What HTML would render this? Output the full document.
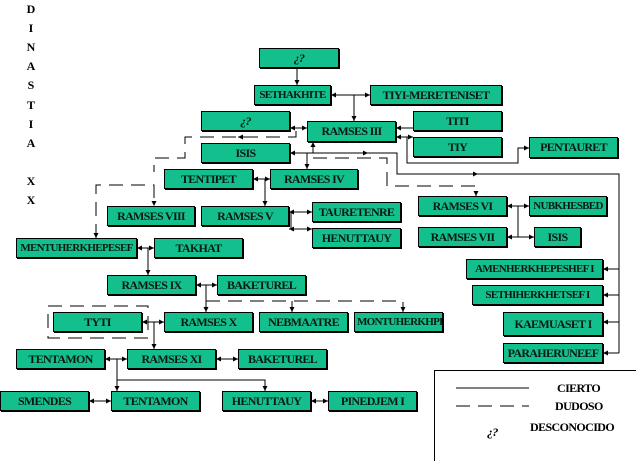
<!DOCTYPE html>
<html><head><meta charset="utf-8"><style>
html,body{margin:0;padding:0;background:#fff;width:636px;height:461px;overflow:hidden;position:relative;font-family:"Liberation Serif",serif;}
.b{position:absolute;box-sizing:border-box;background:#14bf8e;border:1px solid #000;box-shadow:1px 1px 0 #000;font-weight:bold;font-size:12px;letter-spacing:-0.7px;display:flex;align-items:center;justify-content:center;white-space:nowrap;color:#0a1a12;}
.s{font-size:11px;letter-spacing:-0.7px;}
.l{position:absolute;font-weight:bold;font-size:12px;width:12px;text-align:center;left:25px;}
.t{position:absolute;font-weight:bold;font-size:12px;letter-spacing:-0.6px;}
svg{position:absolute;left:0;top:0;}
</style></head><body>
<div class="l" style="top:2px">D</div>
<div class="l" style="top:21px">I</div>
<div class="l" style="top:40px">N</div>
<div class="l" style="top:59px">A</div>
<div class="l" style="top:78px">S</div>
<div class="l" style="top:98px">T</div>
<div class="l" style="top:117px">I</div>
<div class="l" style="top:136px">A</div>
<div class="l" style="top:174px">X</div>
<div class="l" style="top:193px">X</div>

<svg width="636" height="461" viewBox="0 0 636 461">
<defs><marker id="a" viewBox="0 0 10 10" refX="10" refY="5" markerWidth="5" markerHeight="5" orient="auto"><path d="M0,0L10,5L0,10z" fill="#000"/></marker></defs>
<g stroke="#000" stroke-width="1" fill="none">
<path d="M297,68V85" marker-end="url(#a)"/>
<path d="M354,95H331" marker-end="url(#a)"/><path d="M354,95H370" marker-end="url(#a)"/>
<path d="M354,95V121" marker-end="url(#a)"/>
<path d="M298,128H290" marker-end="url(#a)"/><path d="M298,128H307" marker-end="url(#a)"/>
<path d="M413,128H396" marker-end="url(#a)"/>
<path d="M407,137H396" marker-end="url(#a)"/><path d="M407,137H413" marker-end="url(#a)"/>
<path d="M407,137V163H518V148H529" marker-end="url(#a)"/>
<path d="M313,153V142" marker-end="url(#a)"/>
<path d="M313,153H290" marker-end="url(#a)"/>
<path d="M313,153H397V174H619V353"/>
<path d="M360,153H368" marker-end="url(#a)"/>
<path d="M470,174H478" marker-end="url(#a)"/>
<path d="M619,269H603" marker-end="url(#a)"/>
<path d="M619,295H603" marker-end="url(#a)"/>
<path d="M619,322H603" marker-end="url(#a)"/>
<path d="M619,353H603" marker-end="url(#a)"/>
<path d="M307,153V169" marker-end="url(#a)"/>
<path d="M265,179H253" marker-end="url(#a)"/><path d="M265,179H270" marker-end="url(#a)"/>
<path d="M265,179V206" marker-end="url(#a)"/>
<path d="M300,212H289" marker-end="url(#a)"/><path d="M300,212H312" marker-end="url(#a)"/>
<path d="M291,212V229H312" marker-end="url(#a)"/>
<path d="M300,229H289" marker-end="url(#a)"/>
<path d="M518,206H507" marker-end="url(#a)"/><path d="M518,206H529" marker-end="url(#a)"/>
<path d="M518,206V237"/>
<path d="M518,237H507" marker-end="url(#a)"/><path d="M518,237H534" marker-end="url(#a)"/>
<path d="M148,248H137" marker-end="url(#a)"/><path d="M148,248H154" marker-end="url(#a)"/>
<path d="M148,248V275" marker-end="url(#a)"/>
<path d="M206,285H196" marker-end="url(#a)"/><path d="M206,285H217" marker-end="url(#a)"/>
<path d="M206,285V301"/>
<path d="M154,322H142" marker-end="url(#a)"/><path d="M154,322H164" marker-end="url(#a)"/>
<path d="M154,322V349" marker-end="url(#a)"/>
<path d="M117,359H105" marker-end="url(#a)"/><path d="M117,359H127" marker-end="url(#a)"/>
<path d="M117,359V391" marker-end="url(#a)"/>
<path d="M117,380H265V391" marker-end="url(#a)"/>
<path d="M227,359H216" marker-end="url(#a)"/><path d="M227,359H238" marker-end="url(#a)"/>
<path d="M100,401H89" marker-end="url(#a)"/><path d="M100,401H111" marker-end="url(#a)"/>
<path d="M320,401H311" marker-end="url(#a)"/><path d="M320,401H328" marker-end="url(#a)"/>
</g>
<g stroke="#000" stroke-width="1" fill="none" stroke-dasharray="14,8">
<path d="M296,131V137H185V158H154V172"/>
<path d="M96,238V185H154V206" marker-end="url(#a)"/>
<path d="M96,230V238" stroke-dasharray="none" marker-end="url(#a)"/>
<path d="M250,137H238" stroke-dasharray="none" marker-end="url(#a)"/>
<path d="M313,158H387V186H476V196" marker-end="url(#a)"/>
<path d="M206,301H403V312" marker-end="url(#a)"/>
<path d="M206,301V312" stroke-dasharray="none" marker-end="url(#a)"/>
<path d="M292,301V312" stroke-dasharray="none" marker-end="url(#a)"/>
<path d="M48,306H148V338H48Z"/>
<path d="M456,406H529"/>
</g>
<path d="M456,388H529" stroke="#000"/>
<path d="M434.5,461V370.5H636" stroke="#000" fill="none"/>
</svg>

<div class="b" style="left:259px;top:48px;width:80px;height:20px;font-style:italic">¿?</div>
<div class="b s" style="left:254px;top:85px;width:77px;height:20px">SETHAKHITE</div>
<div class="b" style="left:370px;top:85px;width:132px;height:20px">TIYI-MERETENISET</div>
<div class="b" style="left:201px;top:111px;width:89px;height:20px;font-style:italic">¿?</div>
<div class="b" style="left:307px;top:121px;width:89px;height:21px">RAMSES III</div>
<div class="b" style="left:413px;top:111px;width:89px;height:20px">TITI</div>
<div class="b" style="left:413px;top:137px;width:89px;height:20px">TIY</div>
<div class="b" style="left:529px;top:137px;width:89px;height:21px">PENTAURET</div>
<div class="b" style="left:201px;top:143px;width:89px;height:20px">ISIS</div>
<div class="b" style="left:164px;top:169px;width:89px;height:20px">TENTIPET</div>
<div class="b" style="left:270px;top:169px;width:88px;height:20px">RAMSES IV</div>
<div class="b" style="left:107px;top:206px;width:88px;height:20px">RAMSES VIII</div>
<div class="b" style="left:201px;top:206px;width:88px;height:20px">RAMSES V</div>
<div class="b" style="left:312px;top:202px;width:89px;height:20px">TAURETENRE</div>
<div class="b" style="left:312px;top:228px;width:89px;height:20px">HENUTTAUY</div>
<div class="b" style="left:418px;top:196px;width:89px;height:20px">RAMSES VI</div>
<div class="b s" style="left:529px;top:196px;width:78px;height:20px">NUBKHESBED</div>
<div class="b" style="left:418px;top:227px;width:89px;height:20px">RAMSES VII</div>
<div class="b" style="left:534px;top:227px;width:47px;height:20px">ISIS</div>
<div class="b s" style="left:466px;top:259px;width:137px;height:20px">AMENHERKHEPESHEF I</div>
<div class="b s" style="left:472px;top:285px;width:131px;height:20px">SETHIHERKHETSEF I</div>
<div class="b" style="left:503px;top:312px;width:100px;height:24px">KAEMUASET I</div>
<div class="b" style="left:503px;top:343px;width:100px;height:20px">PARAHERUNEEF</div>
<div class="b s" style="left:16px;top:238px;width:121px;height:20px">MENTUHERKHEPESEF</div>
<div class="b" style="left:154px;top:238px;width:89px;height:20px">TAKHAT</div>
<div class="b" style="left:107px;top:275px;width:89px;height:20px">RAMSES IX</div>
<div class="b" style="left:217px;top:275px;width:89px;height:20px">BAKETUREL</div>
<div class="b" style="left:53px;top:312px;width:89px;height:20px">TYTI</div>
<div class="b" style="left:164px;top:312px;width:89px;height:20px">RAMSES X</div>
<div class="b" style="left:259px;top:312px;width:89px;height:20px">NEBMAATRE</div>
<div class="b s" style="left:354px;top:312px;width:89px;height:20px;justify-content:flex-start;padding-left:2px;overflow:hidden">MONTUHERKHPESEF</div>
<div class="b" style="left:16px;top:349px;width:89px;height:20px">TENTAMON</div>
<div class="b" style="left:127px;top:349px;width:89px;height:20px">RAMSES XI</div>
<div class="b" style="left:238px;top:349px;width:89px;height:20px">BAKETUREL</div>
<div class="b" style="left:0px;top:391px;width:89px;height:20px">SMENDES</div>
<div class="b" style="left:111px;top:391px;width:89px;height:20px">TENTAMON</div>
<div class="b" style="left:222px;top:391px;width:89px;height:20px">HENUTTAUY</div>
<div class="b" style="left:328px;top:391px;width:89px;height:20px">PINEDJEM I</div>

<div class="t" style="left:557px;top:381px">CIERTO</div>
<div class="t" style="left:555px;top:399px">DUDOSO</div>
<div class="t" style="left:530px;top:420px">DESCONOCIDO</div>
<div class="t" style="left:487px;top:425px;font-style:italic">¿?</div>
</body></html>
